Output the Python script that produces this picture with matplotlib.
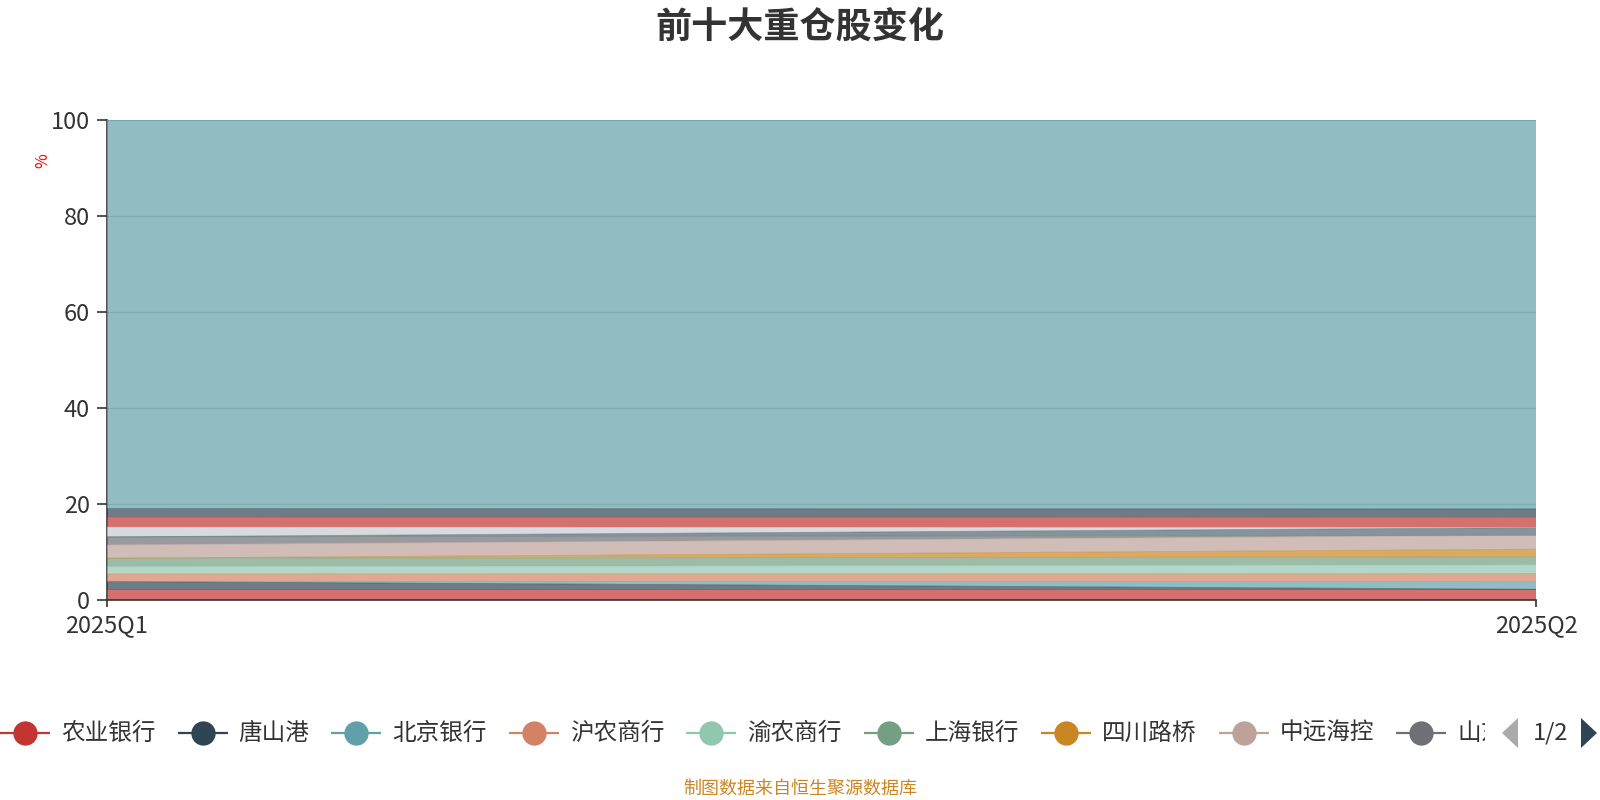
import matplotlib
matplotlib.use("Agg")
import matplotlib.pyplot as plt
import numpy as np
from matplotlib.patches import Polygon
from matplotlib.transforms import Bbox

plt.rcParams['font.family'] = ['Noto Sans CJK SC', 'DejaVu Sans']

# ---------------- data ----------------
categories = ["2025Q1", "2025Q2"]
series_names = ["农业银行", "唐山港", "北京银行", "沪农商行", "渝农商行", "上海银行",
                "四川路桥", "中远海控", "山东", "厦门银行", "青岛港", "招商银行",
                "中国海油", "其他"]
s_nongye = [2.23, 2.23]
s_tangshan = [1.62, 0.0]
s_beijing = [0.0, 1.60]
s_hunong = [1.58, 1.67]
s_yunong = [1.52, 1.81]
s_shanghai = [1.75, 1.67]
s_sichuan = [0.0, 1.60]
s_zhongyuan = [2.77, 2.92]
s_shandong = [1.67, 0.0]
s_xiamen = [0.0, 1.58]
s_qingdao = [2.02, 0.0]
s_zhaoshang = [2.15, 2.15]
s_haiyou = [1.73, 1.75]
s_other = [80.96, 81.02]
series_values = [s_nongye, s_tangshan, s_beijing, s_hunong, s_yunong, s_shanghai,
                 s_sichuan, s_zhongyuan, s_shandong, s_xiamen, s_qingdao,
                 s_zhaoshang, s_haiyou, s_other]
legend_page_count = 9   # items visible on legend page 1
yticks = [0, 20, 40, 60, 80, 100]

palette = ['#c23531', '#2f4554', '#61a0a8', '#d48265', '#91c7ae', '#749f83',
           '#ca8622', '#bda29a', '#6e7074', '#546570', '#c4ccd3']
colors = [palette[i % len(palette)] for i in range(len(series_names))]

W, H = 1600, 800
fig = plt.figure(figsize=(16, 8), dpi=100)
fig.patch.set_facecolor('white')

# plot area in pixels: x 107..1536, y 120..600 (from top)
ax = fig.add_axes([107 / W, (H - 600) / H, (1536 - 107) / W, (600 - 120) / H])
x = np.arange(len(categories))
vals = np.array(series_values, dtype=float)
ax.stackplot(x, vals, colors=colors, alpha=0.7, linewidth=0, zorder=2)
tops = np.cumsum(vals, axis=0)
for i in range(len(series_names)):
    ax.plot(x, tops[i], color=colors[i], lw=0.6, alpha=0.55, zorder=3)

ax.set_xlim(0, len(categories) - 1)
ax.set_ylim(0, 100)
ax.set_xticks(x)
ax.set_xticklabels(categories)
ax.set_yticks(yticks)
ax.set_yticklabels([str(t) for t in yticks])
ax.yaxis.grid(True, color='#cccccc', lw=1.0, zorder=0)
ax.set_axisbelow(True)
for sp in ['top', 'right']:
    ax.spines[sp].set_visible(False)
for sp in ['left', 'bottom']:
    ax.spines[sp].set_color('#333333')
    ax.spines[sp].set_linewidth(1.2)
    ax.spines[sp].set_zorder(1)
ax.spines['bottom'].set_zorder(4)
ax.tick_params(axis='y', length=7.2, width=1.2, color='#333333', pad=5,
               labelsize=17, labelcolor='#333333')
ax.tick_params(axis='x', length=5, width=1.2, color='#333333', pad=5,
               labelsize=17, labelcolor='#333333')
ax.set_facecolor('white')

fig.text(43 / W, 1 - 161 / H, '%', color='red', fontsize=11.5, rotation=90,
         ha='center', va='center')

# title
fig.text(0.5, 1 - 27 / H, '前十大重仓股变化', ha='center', va='center',
         fontsize=26, fontweight='bold', color='#333333')

# footer
fig.text(0.5, 1 - 789 / H, '制图数据来自恒生聚源数据库', ha='center', va='center',
         fontsize=13, color='#ca8622')

# ---------------- legend (page 1) ----------------
ov = fig.add_axes([0, 0, 1, 1], zorder=10)
ov.set_xlim(0, W)
ov.set_ylim(H, 0)
ov.axis('off')
ov.patch.set_alpha(0)

renderer = fig.canvas.get_renderer()
ly = 733
cx = 0.0
clip = Bbox.from_extents(0, 0, 1485, H)
for i in range(legend_page_count):
    c = colors[i]
    ov.plot([cx, cx + 50], [ly, ly], color=c, lw=1.6, solid_capstyle='butt')
    ov.plot([cx + 25], [ly], marker='o', markersize=17.5, color=c, markeredgewidth=0)
    t = ov.text(cx + 61, ly, series_names[i], fontsize=17, color='#333333',
                ha='left', va='center')
    t.set_clip_box(clip)
    t.set_clip_on(True)
    bb = t.get_window_extent(renderer)
    cx = cx + 61 + bb.width + 22

# pager
ov.add_patch(Polygon([[1518, ly - 15], [1518, ly + 15], [1502, ly]], closed=True,
                     color='#aaaaaa', lw=0))
ov.text(1551, ly, '1/2', fontsize=17, color='#333333', ha='center', va='center')
ov.add_patch(Polygon([[1581, ly - 15], [1581, ly + 15], [1597, ly]], closed=True,
                     color='#2f4554', lw=0))

fig.savefig('out.png', dpi=100, facecolor='white')
